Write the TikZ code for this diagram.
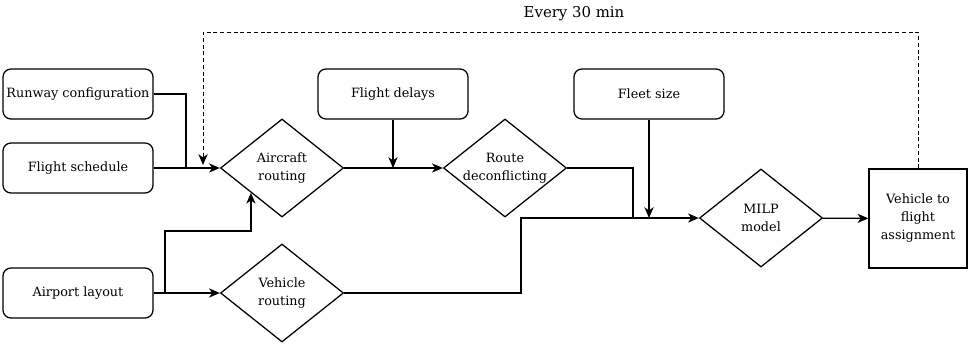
\documentclass[tikz,border=0pt]{standalone}
\usepackage{fontspec}
\setmainfont{DejaVu Serif}
\usetikzlibrary{shapes.geometric,arrows.meta}

\tikzset{
  inbox/.style={draw, rounded corners=0.2cm, inner sep=0pt,
    minimum width=3.75cm, minimum height=1.25cm},
  decision/.style={draw, diamond, inner sep=-4pt, align=center,
    minimum width=3.075cm, minimum height=2.45cm},
  outbox/.style={draw, inner sep=0pt, align=center,
    minimum width=2.45cm, minimum height=2.475cm},
  arr/.style={-{Stealth[length=0.27cm, width=0.23cm, inset=0.08cm]}},
}

\begin{document}
\begin{tikzpicture}[x=0.025cm, y=-0.025cm, line width=0.9pt,
    font=\fontsize{9.1}{12.8}\selectfont]
    \useasboundingbox (0,0) rectangle (968,344);

    % Draw input boxes
    \foreach \n/\x/\y/\t in {rwy/78/94/Runway configuration,
        fs/78/168/Flight schedule, apt/78/293/Airport layout,
        fd/393/94/Flight delays, fl/649/94/Fleet size} {
        \node[inbox] (\n) at (\x,\y) {\t};
      }

    % Draw decisions
    \node[decision] (acr) at (282,168) {Aircraft\\routing};
    \node[decision] (vr) at (282,293) {Vehicle\\routing};
    \node[decision] (rd) at (505,168) {Route\\deconflicting};
    \node[decision] (milp) at (761,218) {MILP\\model};
    \node[outbox] (vfa) at (918,218.5) {Vehicle to\\flight\\assignment};

    % Draw join points
    \coordinate (j1) at (186,168);
    \coordinate (j2) at (165,293);
    \coordinate (k2) at (165,231);
    \coordinate (j3) at (633,218);
    \coordinate (j4) at (521,218);
    \coordinate (top) at (203,32);
    \coordinate (fb) at (203,165);

    % Draw connectors
    \draw (rwy.east) -| (j1);
    \draw[arr] (fs) -- (acr);
    \draw[arr] (apt) -- (vr);
    \draw[arr] (j2) -- (k2) -| (acr.south west);
    \draw[arr] (acr) -- (rd);
    \draw[arr] (fd.south) -- (fd.south |- acr.east);
    \draw (rd.east) -| (j3);
    \draw[arr] (vr.east) -| (j4) -- (milp.west);
    \draw[arr] (fl.south) -- (fl.south |- milp.west);
    \draw[arr] (milp) -- (vfa);

    % Draw feedback loop
    \draw[arr, line width=0.7pt, dash pattern=on 2.8pt off 2pt]
      (vfa.north) |- (top) -- (fb);
    \node[font=\fontsize{10.6}{12}\selectfont] (lbl) at (574,14) {Every 30 min};
  \end{tikzpicture}
\end{document}
